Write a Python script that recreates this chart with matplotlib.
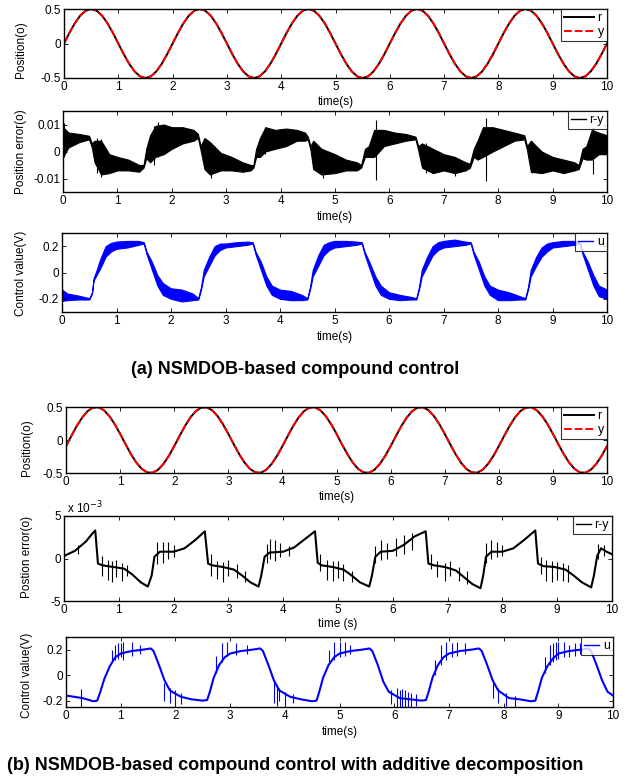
import matplotlib
matplotlib.use('Agg')
import matplotlib.pyplot as plt
import numpy as np
from matplotlib.lines import Line2D

plt.rcParams['font.family'] = ['Liberation Sans', 'DejaVu Sans']
plt.rcParams['axes.unicode_minus'] = False

# time grid of the position traces (0.1 s)
t_pos = np.arange(0, 101) / 10.0

# (a) reference r
r_a = [0.0, 0.155, 0.294, 0.405, 0.476, 0.5, 0.476, 0.405, 0.294, 0.155,
       0.0, -0.155, -0.294, -0.405, -0.476, -0.5, -0.476, -0.405, -0.294, -0.155,
       0.0, 0.155, 0.294, 0.405, 0.476, 0.5, 0.476, 0.405, 0.294, 0.155,
       0.0, -0.155, -0.294, -0.405, -0.476, -0.5, -0.476, -0.405, -0.294, -0.155,
       0.0, 0.155, 0.294, 0.405, 0.476, 0.5, 0.476, 0.405, 0.294, 0.155,
       0.0, -0.155, -0.294, -0.405, -0.476, -0.5, -0.476, -0.405, -0.294, -0.155,
       0.0, 0.155, 0.294, 0.405, 0.476, 0.5, 0.476, 0.405, 0.294, 0.155,
       0.0, -0.155, -0.294, -0.405, -0.476, -0.5, -0.476, -0.405, -0.294, -0.155,
       0.0, 0.155, 0.294, 0.405, 0.476, 0.5, 0.476, 0.405, 0.294, 0.155,
       0.0, -0.155, -0.294, -0.405, -0.476, -0.5, -0.476, -0.405, -0.294, -0.155,
       0.0]
# y lies on top of r at this resolution
y_a = list(r_a)

# (b) reference r (slightly delayed)
r_b = [-0.094, 0.063, 0.213, 0.342, 0.438, 0.491, 0.496, 0.452, 0.364, 0.241,
       0.094, -0.063, -0.213, -0.342, -0.438, -0.491, -0.496, -0.452, -0.364, -0.241,
       -0.094, 0.063, 0.213, 0.342, 0.438, 0.491, 0.496, 0.452, 0.364, 0.241,
       0.094, -0.063, -0.213, -0.342, -0.438, -0.491, -0.496, -0.452, -0.364, -0.241,
       -0.094, 0.063, 0.213, 0.342, 0.438, 0.491, 0.496, 0.452, 0.364, 0.241,
       0.094, -0.063, -0.213, -0.342, -0.438, -0.491, -0.496, -0.452, -0.364, -0.241,
       -0.094, 0.063, 0.213, 0.342, 0.438, 0.491, 0.496, 0.452, 0.364, 0.241,
       0.094, -0.063, -0.213, -0.342, -0.438, -0.491, -0.496, -0.452, -0.364, -0.241,
       -0.094, 0.063, 0.213, 0.342, 0.438, 0.491, 0.496, 0.452, 0.364, 0.241,
       0.094, -0.063, -0.213, -0.342, -0.438, -0.491, -0.496, -0.452, -0.364, -0.241,
       -0.094]
y_b = list(r_b)

# (a) position error: noise band (lower / upper envelope), x1e-3
t_err_a = [0.0, 0.1, 0.3, 0.48, 0.53, 0.58, 0.7, 0.85, 1.0, 1.2, 1.4, 1.48, 1.53, 1.6, 1.7, 1.85,
           2.0, 2.2, 2.4, 2.48, 2.53, 2.6, 2.7, 2.9, 3.1, 3.3, 3.45, 3.5, 3.55, 3.62, 3.72, 3.9,
           4.1, 4.3, 4.45, 4.5, 4.55, 4.6, 4.75, 5.0, 5.2, 5.4, 5.48, 5.55, 5.62, 5.72, 5.9,
           6.1, 6.3, 6.48, 6.53, 6.6, 6.8, 7.0, 7.2, 7.4, 7.48, 7.55, 7.62, 7.72, 7.9,
           8.1, 8.3, 8.48, 8.53, 8.6, 8.8, 9.0, 9.2, 9.4, 9.48, 9.55, 9.62, 9.72, 9.85, 10.0]
lo_err_a = [-2.0, 1.5, 3.5, 4.5, 1.5, -4.0, -8.5, -8.0, -7.0, -7.0, -7.5, -6.0, -2.5, -4.0, -2.0, -1.0,
            1.0, 3.0, 4.0, 5.0, 0.5, -6.5, -8.5, -7.0, -7.0, -7.5, -7.0, -6.0, -2.0, -2.0, 0.0, 1.0,
            2.0, 4.0, 4.0, 4.5, 0.5, -6.5, -8.5, -8.0, -7.0, -7.0, -6.0, -2.0, -2.0, -2.0, 2.0,
            3.0, 4.0, 4.5, 0.5, -6.0, -8.0, -7.0, -8.0, -7.0, -6.0, -2.0, -3.0, -2.0, 0.0,
            2.0, 4.0, 4.5, 0.5, -7.5, -8.0, -7.0, -8.0, -7.0, -6.5, -2.5, -3.0, -3.0, -1.0, -1.0]
hi_err_a = [9.0, 7.0, 6.5, 5.8, 3.0, 4.0, 4.0, -1.0, -2.0, -3.0, -5.0, -5.0, 1.0, 6.0, 9.5, 10.0,
            9.0, 9.0, 8.0, 6.5, 2.0, 5.0, 3.5, -0.5, -2.0, -4.0, -5.0, -5.0, 1.0, 5.0, 9.0, 8.0,
            8.5, 8.0, 7.0, 5.5, 2.0, 4.0, 1.0, -1.0, -3.0, -4.0, -5.0, 1.0, 2.0, 8.0, 8.0,
            7.0, 6.5, 5.5, 2.0, 3.0, 1.0, -1.0, -2.0, -4.0, -4.5, 1.0, 4.0, 9.0, 9.0,
            8.0, 7.0, 6.0, 2.0, 4.0, 0.0, -2.0, -3.0, -4.0, -5.0, 1.0, 2.0, 8.0, 7.0, 6.0]
# isolated spikes
t_spk_a = [0.02, 0.62, 0.7, 1.68, 1.75, 2.62, 2.72, 3.72, 4.6, 4.78, 5.75, 6.68, 7.2, 7.78, 8.62, 9.75]
lo_spk_a = [-2.0, -8.0, -9.5, -5.0, -2.0, -6.0, -9.8, -1.0, -6.0, -9.8, -10.5, -8.0, -9.0, -11.0, -8.0, -8.5]
hi_spk_a = [10.5, 5.0, 4.5, 9.5, 11.0, 4.0, 3.0, 9.0, 4.0, 1.0, 11.8, 3.0, -3.0, 12.5, 4.0, 9.0]

# (a) control value: noise band
t_u_a = [0.0, 0.1, 0.3, 0.5, 0.55, 0.58, 0.62, 0.7, 0.8, 0.9, 1.0, 1.2, 1.4, 1.5, 1.55, 1.65, 1.75, 1.85,
         2.0, 2.2, 2.4, 2.5, 2.55, 2.6, 2.7, 2.8, 2.9, 3.0, 3.2, 3.4, 3.5, 3.55, 3.65, 3.75, 3.85,
         4.0, 4.2, 4.4, 4.5, 4.55, 4.6, 4.7, 4.8, 4.9, 5.0, 5.2, 5.4, 5.5, 5.55, 5.65, 5.75, 5.85,
         6.0, 6.2, 6.4, 6.5, 6.55, 6.6, 6.7, 6.8, 6.9, 7.0, 7.2, 7.4, 7.5, 7.55, 7.65, 7.75, 7.85,
         8.0, 8.2, 8.4, 8.5, 8.55, 8.6, 8.7, 8.8, 8.9, 9.0, 9.2, 9.4, 9.5, 9.55, 9.65, 9.75, 9.85, 10.0]
lo_u_a = [-0.215, -0.21, -0.205, -0.205, -0.16, -0.06, -0.03, 0.03, 0.12, 0.16, 0.18, 0.19, 0.21, 0.22, 0.14, 0.02, -0.1, -0.17,
          -0.2, -0.22, -0.21, -0.205, -0.13, -0.03, 0.05, 0.13, 0.17, 0.19, 0.2, 0.21, 0.22, 0.14, 0.02, -0.1, -0.17,
          -0.2, -0.21, -0.21, -0.205, -0.13, -0.03, 0.05, 0.13, 0.17, 0.19, 0.2, 0.21, 0.22, 0.14, 0.02, -0.1, -0.17,
          -0.2, -0.21, -0.205, -0.205, -0.13, -0.03, 0.05, 0.13, 0.17, 0.19, 0.2, 0.21, 0.22, 0.14, 0.02, -0.1, -0.17,
          -0.21, -0.21, -0.205, -0.205, -0.13, -0.03, 0.05, 0.12, 0.16, 0.19, 0.2, 0.21, 0.22, 0.14, 0.02, -0.1, -0.18, -0.2]
hi_u_a = [-0.13, -0.16, -0.175, -0.195, -0.15, -0.04, 0.0, 0.1, 0.2, 0.225, 0.235, 0.24, 0.24, 0.23, 0.16, 0.08, -0.02, -0.08,
          -0.12, -0.13, -0.16, -0.195, -0.11, 0.02, 0.12, 0.2, 0.22, 0.22, 0.23, 0.235, 0.23, 0.16, 0.08, -0.03, -0.1,
          -0.13, -0.14, -0.17, -0.195, -0.11, 0.02, 0.13, 0.21, 0.23, 0.24, 0.24, 0.235, 0.23, 0.16, 0.07, -0.03, -0.1,
          -0.15, -0.17, -0.185, -0.195, -0.11, 0.02, 0.12, 0.2, 0.23, 0.24, 0.25, 0.235, 0.23, 0.16, 0.08, -0.03, -0.1,
          -0.13, -0.15, -0.18, -0.195, -0.11, 0.02, 0.12, 0.19, 0.22, 0.23, 0.24, 0.24, 0.23, 0.16, 0.08, -0.02, -0.1, -0.13]

# (b) position error, in units of 1e-3
t_err_b = [0.0, 0.2, 0.4, 0.5, 0.57, 0.62, 0.7, 0.9, 1.1, 1.25, 1.4, 1.53, 1.6, 1.65, 1.75,
           2.0, 2.2, 2.4, 2.57, 2.63, 2.7, 2.9, 3.1, 3.25, 3.4, 3.55, 3.6, 3.66, 3.75,
           4.0, 4.2, 4.4, 4.58, 4.63, 4.7, 4.9, 5.1, 5.25, 5.4, 5.57, 5.62, 5.68, 5.78,
           6.0, 6.2, 6.4, 6.6, 6.65, 6.75, 6.95, 7.15, 7.3, 7.45, 7.6, 7.65, 7.7, 7.8,
           8.0, 8.2, 8.4, 8.6, 8.65, 8.75, 8.95, 9.15, 9.3, 9.45, 9.62, 9.67, 9.73, 9.8, 9.9, 10.0]
v_err_b = [0.3, 0.9, 2.0, 2.8, 3.3, -0.6, -0.8, -1.0, -1.2, -1.9, -2.8, -3.3, -2.0, 0.2, 0.8,
           0.8, 1.2, 2.2, 3.2, -0.6, -0.8, -1.0, -1.3, -2.0, -2.8, -3.3, -2.0, 0.2, 0.7,
           0.8, 1.3, 2.3, 3.2, -0.5, -0.8, -1.0, -1.3, -2.0, -2.8, -3.3, -2.0, 0.2, 0.8,
           0.9, 1.6, 2.6, 3.2, -0.6, -0.8, -1.0, -1.4, -2.2, -3.0, -3.5, -2.0, 0.2, 0.8,
           0.8, 1.2, 2.2, 3.3, -0.6, -0.9, -1.0, -1.3, -2.0, -2.8, -3.4, -2.0, 0.3, 1.2, 0.8, 0.5]
t_spk_b = [0.25, 0.7, 0.8, 0.88, 0.95, 1.05, 1.15, 1.7, 1.8, 1.9, 2.0,
           2.68, 2.8, 2.9, 3.0, 3.15, 3.3, 3.7, 3.75, 3.85, 3.95, 4.1,
           4.68, 4.8, 4.9, 5.0, 5.1, 5.25, 5.68, 5.78, 5.9, 6.05, 6.2, 6.35,
           6.7, 6.8, 6.95, 7.05, 7.2, 7.35, 7.7, 7.8, 7.9, 8.0,
           8.7, 8.8, 8.9, 9.0, 9.1, 9.2, 9.75, 9.85]
lo_spk_b = [0.5, -2.0, -2.5, -2.8, -2.2, -2.6, -2.0, -0.6, -0.5, 0.0, 0.2,
            -2.0, -2.4, -2.8, -2.0, -2.3, -2.8, -0.5, 0.0, -0.3, 0.2, 0.3,
            -1.5, -2.5, -2.7, -2.3, -2.6, -2.8, -0.5, -0.2, 0.0, 0.3, 0.5, 1.0,
            -1.2, -2.2, -2.6, -2.0, -2.7, -3.0, -0.5, 0.0, 0.2, 0.3,
            -1.8, -2.6, -2.8, -2.5, -2.6, -2.8, 0.0, 0.3]
hi_spk_b = [1.6, 0.3, -0.2, -0.3, -0.2, -0.5, -0.8, 2.0, 2.0, 2.0, 1.6,
            0.5, -0.3, -0.4, -0.2, -0.6, -1.5, 1.7, 2.3, 2.2, 1.8, 1.5,
            0.5, -0.2, -0.3, -0.3, -0.6, -1.5, 1.5, 2.2, 1.8, 2.4, 2.8, 3.0,
            0.5, -0.3, -0.5, -0.3, -1.0, -1.5, 1.8, 2.2, 2.0, 1.6,
            0.2, -0.2, -0.3, -0.4, -0.5, -0.8, 1.7, 1.6]

# (b) control value
t_u_b = [0.0, 0.3, 0.5, 0.57, 0.62, 0.7, 0.8, 0.9, 1.0, 1.2, 1.4, 1.55, 1.6, 1.7, 1.8, 1.9,
         2.1, 2.3, 2.5, 2.58, 2.63, 2.7, 2.8, 2.9, 3.0, 3.2, 3.4, 3.55, 3.6, 3.7, 3.8, 3.9,
         4.1, 4.3, 4.5, 4.58, 4.63, 4.7, 4.8, 4.9, 5.0, 5.2, 5.4, 5.55, 5.6, 5.7, 5.8, 5.9,
         6.1, 6.3, 6.5, 6.58, 6.63, 6.7, 6.8, 6.9, 7.0, 7.2, 7.4, 7.55, 7.6, 7.7, 7.8, 7.9,
         8.1, 8.3, 8.5, 8.58, 8.63, 8.7, 8.8, 8.9, 9.0, 9.2, 9.4, 9.55, 9.6, 9.7, 9.8, 9.9, 10.0]
v_u_b = [-0.16, -0.18, -0.205, -0.2, -0.14, -0.03, 0.07, 0.14, 0.17, 0.19, 0.2, 0.21, 0.19, 0.08, -0.04, -0.12,
         -0.17, -0.19, -0.2, -0.195, -0.13, -0.02, 0.08, 0.14, 0.17, 0.19, 0.2, 0.21, 0.19, 0.08, -0.04, -0.12,
         -0.17, -0.19, -0.205, -0.2, -0.13, -0.02, 0.08, 0.14, 0.17, 0.19, 0.2, 0.21, 0.19, 0.08, -0.05, -0.13,
         -0.18, -0.19, -0.2, -0.195, -0.13, -0.02, 0.08, 0.14, 0.17, 0.19, 0.2, 0.21, 0.19, 0.08, -0.04, -0.12,
         -0.18, -0.19, -0.205, -0.2, -0.13, -0.02, 0.07, 0.13, 0.17, 0.19, 0.2, 0.21, 0.19, 0.08, -0.04, -0.13, -0.16]
t_spk_u = [0.27, 0.85, 0.9, 0.95, 1.0, 1.05, 1.2, 1.35, 1.8, 1.9, 2.0, 2.1,
           2.75, 2.85, 2.95, 3.1, 3.3, 3.8, 3.85, 3.9, 4.0, 4.15,
           4.8, 4.9, 5.0, 5.1, 5.2, 5.95, 6.05, 6.1, 6.15, 6.2, 6.25, 6.3, 6.4,
           6.75, 6.85, 6.95, 7.05, 7.15, 7.3, 7.8, 7.9, 8.05, 8.2,
           8.75, 8.85, 8.9, 8.95, 9.0, 9.1, 9.2, 9.3, 9.4]
lo_spk_u = [-0.26, 0.1, 0.12, 0.13, 0.14, 0.12, 0.15, 0.17, -0.2, -0.22, -0.25, -0.23,
            0.02, 0.1, 0.15, 0.16, 0.17, -0.22, -0.24, -0.2, -0.24, -0.22,
            0.1, 0.12, 0.14, 0.15, 0.17, -0.23, -0.25, -0.25, -0.25, -0.25, -0.25, -0.25, -0.24,
            0.0, 0.08, 0.12, 0.14, 0.15, 0.17, -0.18, -0.22, -0.24, -0.25,
            0.02, 0.08, 0.1, 0.12, 0.13, 0.14, 0.14, 0.15, 0.17]
hi_spk_u = [-0.11, 0.2, 0.24, 0.25, 0.25, 0.26, 0.26, 0.24, -0.06, -0.1, -0.12, -0.14,
            0.15, 0.25, 0.26, 0.25, 0.24, -0.05, -0.08, -0.1, -0.13, -0.15,
            0.2, 0.26, 0.26, 0.26, 0.24, -0.12, -0.1, -0.12, -0.11, -0.12, -0.13, -0.14, -0.15,
            0.12, 0.24, 0.26, 0.25, 0.26, 0.25, -0.06, -0.1, -0.14, -0.16,
            0.14, 0.24, 0.25, 0.26, 0.26, 0.26, 0.24, 0.25, 0.25]

W, H = 628, 779
BLUE = '#0000ff'


def box(left, top, right, bottom):
    return [left / W, 1 - bottom / H, (right - left) / W, (bottom - top) / H]


def style(ax, ylim, yticks, yticklabels):
    ax.set_xlim(0, 10)
    ax.set_ylim(*ylim)
    ax.set_xticks(range(11))
    ax.set_yticks(yticks)
    ax.set_yticklabels(yticklabels)
    ax.tick_params(direction='in', top=True, right=True, length=3, width=0.6,
                   labelsize=8.5, pad=2)
    for s in ax.spines.values():
        s.set_linewidth(1.0)


def labels(ax, ylab, ylab_x, ylab_y, xlab, xlab_top):
    ax.set_ylabel(ylab, fontsize=8.5)
    ax.yaxis.set_label_coords(ylab_x / W, 1 - ylab_y / H, transform=fig.transFigure)
    ax.set_xlabel(xlab, fontsize=8.5)
    pos = ax.get_position()
    ax.xaxis.set_label_coords(pos.x0 + pos.width / 2, 1 - xlab_top / H,
                              transform=fig.transFigure)


def legend(ax, handles, hlen):
    leg = ax.legend(handles=handles, loc='upper right', fontsize=9, frameon=True,
                    fancybox=False, borderaxespad=0, handlelength=hlen,
                    handletextpad=0.3, borderpad=0.25, labelspacing=0.15)
    leg.get_frame().set_edgecolor('black')
    leg.get_frame().set_linewidth(0.8)


fig = plt.figure(figsize=(6.28, 7.79), dpi=100)

# ---- (a) ----
ax1 = fig.add_axes(box(64, 9, 607, 78))
ax1.plot(t_pos, r_a, color='black', lw=1.4, label='r')
ax1.plot(t_pos, y_a, color='red', lw=1.4, ls=(0, (4, 1.5)), label='y')
style(ax1, (-0.5, 0.5), [-0.5, 0, 0.5], ['-0.5', '0', '0.5'])
labels(ax1, 'Position(o)', 27, 50, 'time(s)', 96)
legend(ax1, ax1.get_lines(), 2.4)

ax2 = fig.add_axes(box(63, 111, 607, 192))
e_lo = np.array(lo_err_a) * 1e-3
e_hi = np.array(hi_err_a) * 1e-3
ax2.fill_between(t_err_a, e_lo, e_hi, color='black', lw=0.8)
ax2.vlines(t_spk_a, np.array(lo_spk_a) * 1e-3, np.array(hi_spk_a) * 1e-3, color='black', lw=0.8)
style(ax2, (-0.015, 0.015), [-0.01, 0, 0.01], ['-0.01', '0', '0.01'])
labels(ax2, 'Position error(o)', 27, 152, 'time(s)', 211)
legend(ax2, [Line2D([], [], color='black', lw=1.0, label='r-y')], 1.2)

ax3 = fig.add_axes(box(62, 233, 607, 312))
ax3.fill_between(t_u_a, lo_u_a, hi_u_a, color=BLUE, lw=0.8)
style(ax3, (-0.3, 0.3), [-0.2, 0, 0.2], ['-0.2', '0', '0.2'])
labels(ax3, 'Control value(V)', 27, 273, 'time(s)', 331)
legend(ax3, [Line2D([], [], color=BLUE, lw=1.0, label='u')], 1.2)

fig.text(0.47, 1 - 370 / H, '(a) NSMDOB-based compound control',
         ha='center', va='center', fontsize=13, fontweight='bold')

# ---- (b) ----
ax4 = fig.add_axes(box(66, 407, 607, 473))
ax4.plot(t_pos, r_b, color='black', lw=1.4, label='r')
ax4.plot(t_pos, y_b, color='red', lw=1.4, ls=(0, (4, 1.5)), label='y')
style(ax4, (-0.5, 0.5), [-0.5, 0, 0.5], ['-0.5', '0', '0.5'])
labels(ax4, 'Position(o)', 33, 448, 'time(s)', 491)
legend(ax4, ax4.get_lines(), 2.4)

ax5 = fig.add_axes(box(64, 516, 612, 601))
ax5.plot(t_err_b, v_err_b, color='black', lw=1.5)
ax5.vlines(t_spk_b, lo_spk_b, hi_spk_b, color='black', lw=0.8)
style(ax5, (-5, 5), [-5, 0, 5], ['-5', '0', '5'])
ax5.text(0.005, 1.0, 'x 10$^{-3}$', transform=ax5.transAxes, ha='left', va='bottom',
         fontsize=8.5)
labels(ax5, 'Postion error(o)', 33, 557, 'time (s)', 618)
legend(ax5, [Line2D([], [], color='black', lw=1.0, label='r-y')], 1.2)

ax6 = fig.add_axes(box(66, 637, 613, 707))
ax6.plot(t_u_b, v_u_b, color=BLUE, lw=1.5)
ax6.vlines(t_spk_u, lo_spk_u, hi_spk_u, color=BLUE, lw=0.8)
style(ax6, (-0.25, 0.3), [-0.2, 0, 0.2], ['-0.2', '0', '0.2'])
labels(ax6, 'Control value(V)', 33, 675, 'time(s)', 726)
legend(ax6, [Line2D([], [], color=BLUE, lw=1.0, label='u')], 1.2)

fig.text(0.47, 1 - 765 / H, '(b) NSMDOB-based compound control with additive decomposition',
         ha='center', va='center', fontsize=13, fontweight='bold')

fig.savefig('out.png', dpi=100)
